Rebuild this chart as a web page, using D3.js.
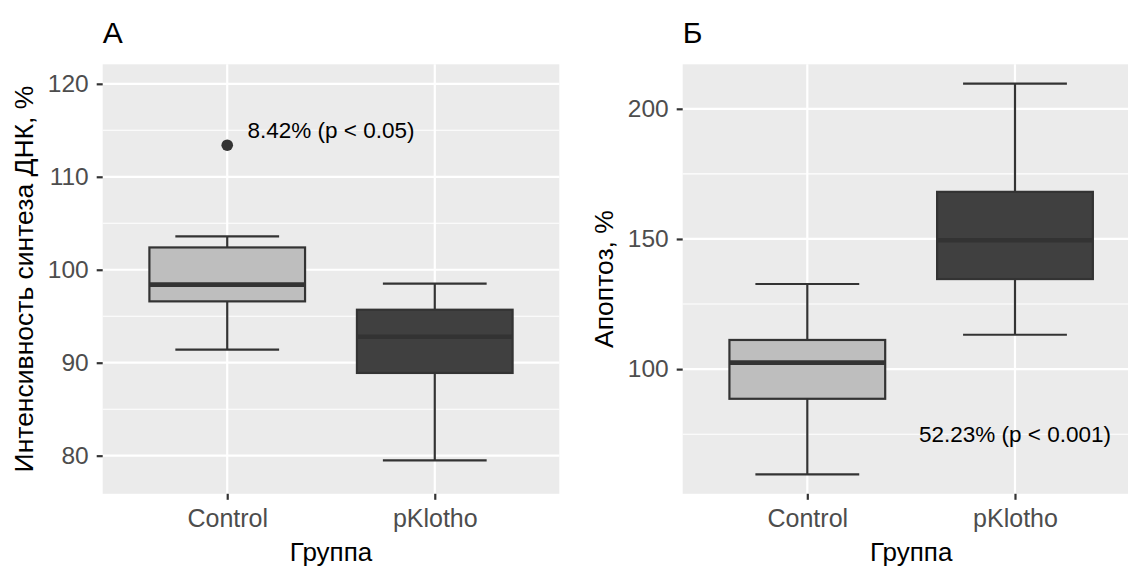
<!DOCTYPE html>
<html>
<head>
<meta charset="utf-8">
<script src="https://cdn.jsdelivr.net/npm/d3@7"></script>
<style>
  html, body { margin: 0; padding: 0; background: #ffffff; }
  svg { display: block; font-family: "Liberation Sans", Arial, sans-serif; }
</style>
</head>
<body>
<svg id="chart" width="1128" height="566"></svg>
<script>
// Groups shared by both panels
const groups = ["Control", "pKlotho"];

// Panel А: DNA synthesis intensity, % (box summaries per group)
const dnaLower  = [91.4, 79.5];
const dnaQ1     = [96.6, 88.9];
const dnaMedian = [98.4, 92.8];
const dnaQ3     = [102.4, 95.7];
const dnaUpper  = [103.6, 98.5];
const dnaOutliers = [[113.4], []];
const dnaTicks  = [80, 90, 100, 110, 120];
const dnaDomain = [75.9, 122.1];

// Panel Б: apoptosis, %
const apoLower  = [59.6, 113.2];
const apoQ1     = [88.6, 134.6];
const apoMedian = [102.5, 149.5];
const apoQ3     = [111.2, 168.1];
const apoUpper  = [132.7, 209.7];
const apoOutliers = [[], []];
const apoTicks  = [100, 150, 200];
const apoDomain = [52.1, 217.1];

// Group fills
const groupFills = ["#bebebe", "#404040"];

const svg = d3.select("#chart");
const panelTop = 64.3, panelBottom = 493.8;

const panels = [
  {
    title: "А", yTitle: "Интенсивность синтеза ДНК, %",
    left: 102.7, right: 559.3,
    lower: dnaLower, q1: dnaQ1, median: dnaMedian, q3: dnaQ3, upper: dnaUpper,
    outliers: dnaOutliers, ticks: dnaTicks, domain: dnaDomain,
    note: { text: "8.42% (p < 0.05)", x: 1.5, y: 115 }
  },
  {
    title: "Б", yTitle: "Апоптоз, %",
    left: 682.7, right: 1139.6,
    lower: apoLower, q1: apoQ1, median: apoMedian, q3: apoQ3, upper: apoUpper,
    outliers: apoOutliers, ticks: apoTicks, domain: apoDomain,
    note: { text: "52.23% (p < 0.001)", x: 2, y: 75 }
  }
];

panels.forEach(p => {
  const g = svg.append("g");

  const x = d3.scalePoint().domain(groups).range([p.left, p.right]).padding(0.6);
  const step = x.step();
  const y = d3.scaleLinear().domain(p.domain).range([panelBottom, panelTop]);
  // numeric position on the discrete axis (1-based like group index)
  const xNum = v => x(groups[0]) + (v - 1) * step;

  // panel background
  g.append("rect")
    .attr("x", p.left).attr("y", panelTop)
    .attr("width", p.right - p.left).attr("height", panelBottom - panelTop)
    .attr("fill", "#ebebeb");

  // minor grid (halfway between major ticks)
  const tStep = p.ticks[1] - p.ticks[0];
  const minor = d3.range(p.ticks[0] - tStep / 2, p.ticks[p.ticks.length - 1] + tStep, tStep)
    .filter(v => v > p.domain[0] && v < p.domain[1]);
  g.selectAll(".minor").data(minor).join("line")
    .attr("x1", p.left).attr("x2", p.right)
    .attr("y1", d => y(d)).attr("y2", d => y(d))
    .attr("stroke", "#ffffff").attr("stroke-width", 1.1);

  // major grid
  g.selectAll(".majorY").data(p.ticks).join("line")
    .attr("x1", p.left).attr("x2", p.right)
    .attr("y1", d => y(d)).attr("y2", d => y(d))
    .attr("stroke", "#ffffff").attr("stroke-width", 2.2);
  g.selectAll(".majorX").data(groups).join("line")
    .attr("x1", d => x(d)).attr("x2", d => x(d))
    .attr("y1", panelTop).attr("y2", panelBottom)
    .attr("stroke", "#ffffff").attr("stroke-width", 2.2);

  // y axis
  const yAxis = d3.axisLeft(y).tickValues(p.ticks).tickSize(6).tickPadding(8).tickFormat(d3.format("d"));
  const ya = g.append("g").attr("transform", `translate(${p.left},0)`).call(yAxis);
  ya.select(".domain").remove();
  ya.selectAll(".tick line").attr("stroke", "#333333").attr("stroke-width", 2.2);
  ya.selectAll(".tick text").attr("fill", "#4d4d4d").attr("font-size", 24.5)
    .attr("font-family", "Liberation Sans, Arial, sans-serif");

  // x axis
  const xAxis = d3.axisBottom(x).tickSize(6).tickPadding(6);
  const xa = g.append("g").attr("transform", `translate(0,${panelBottom})`).call(xAxis);
  xa.select(".domain").remove();
  xa.selectAll(".tick line").attr("stroke", "#333333").attr("stroke-width", 2.2);
  xa.selectAll(".tick text").attr("fill", "#4d4d4d").attr("font-size", 25)
    .attr("font-family", "Liberation Sans, Arial, sans-serif")
    .attr("dy", null).attr("y", 33.5);

  // boxes
  const idx = d3.range(groups.length);
  const boxW = step * 0.75, capW = step * 0.5;
  const bx = g.append("g");
  idx.forEach(i => {
    const cx = x(groups[i]);
    // whisker caps
    [p.lower[i], p.upper[i]].forEach(v => {
      bx.append("line")
        .attr("x1", cx - capW / 2).attr("x2", cx + capW / 2)
        .attr("y1", y(v)).attr("y2", y(v))
        .attr("stroke", "#333333").attr("stroke-width", 2.2);
    });
    // whisker stems
    bx.append("line")
      .attr("x1", cx).attr("x2", cx)
      .attr("y1", y(p.lower[i])).attr("y2", y(p.q1[i]))
      .attr("stroke", "#333333").attr("stroke-width", 2.2);
    bx.append("line")
      .attr("x1", cx).attr("x2", cx)
      .attr("y1", y(p.q3[i])).attr("y2", y(p.upper[i]))
      .attr("stroke", "#333333").attr("stroke-width", 2.2);
    // interquartile box
    bx.append("rect")
      .attr("x", cx - boxW / 2).attr("width", boxW)
      .attr("y", y(p.q3[i])).attr("height", y(p.q1[i]) - y(p.q3[i]))
      .attr("fill", groupFills[i])
      .attr("stroke", "#333333").attr("stroke-width", 2.2);
    // median
    bx.append("line")
      .attr("x1", cx - boxW / 2).attr("x2", cx + boxW / 2)
      .attr("y1", y(p.median[i])).attr("y2", y(p.median[i]))
      .attr("stroke", "#333333").attr("stroke-width", 4.6);
    // outliers
    bx.selectAll(null).data(p.outliers[i]).join("circle")
      .attr("cx", cx).attr("cy", d => y(d)).attr("r", 5.8)
      .attr("fill", "#333333");
  });

  // annotation
  g.append("text")
    .attr("x", xNum(p.note.x)).attr("y", y(p.note.y))
    .attr("dy", "0.36em")
    .attr("text-anchor", "middle")
    .attr("font-size", 22.5).attr("fill", "#000000")
    .text(p.note.text);

  // panel title
  g.append("text")
    .attr("x", p.left).attr("y", 43.3)
    .attr("font-size", 30).attr("fill", "#000000")
    .text(p.title);

  // axis titles
  g.append("text")
    .attr("transform", `translate(${p.left - 70},${(panelTop + panelBottom) / 2}) rotate(-90)`)
    .attr("text-anchor", "middle")
    .attr("font-size", 26.5).attr("fill", "#000000")
    .text(p.yTitle);
  g.append("text")
    .attr("x", (p.left + p.right) / 2).attr("y", 561)
    .attr("text-anchor", "middle")
    .attr("font-size", 26).attr("fill", "#000000")
    .text("Группа");
});
</script>
</body>
</html>
